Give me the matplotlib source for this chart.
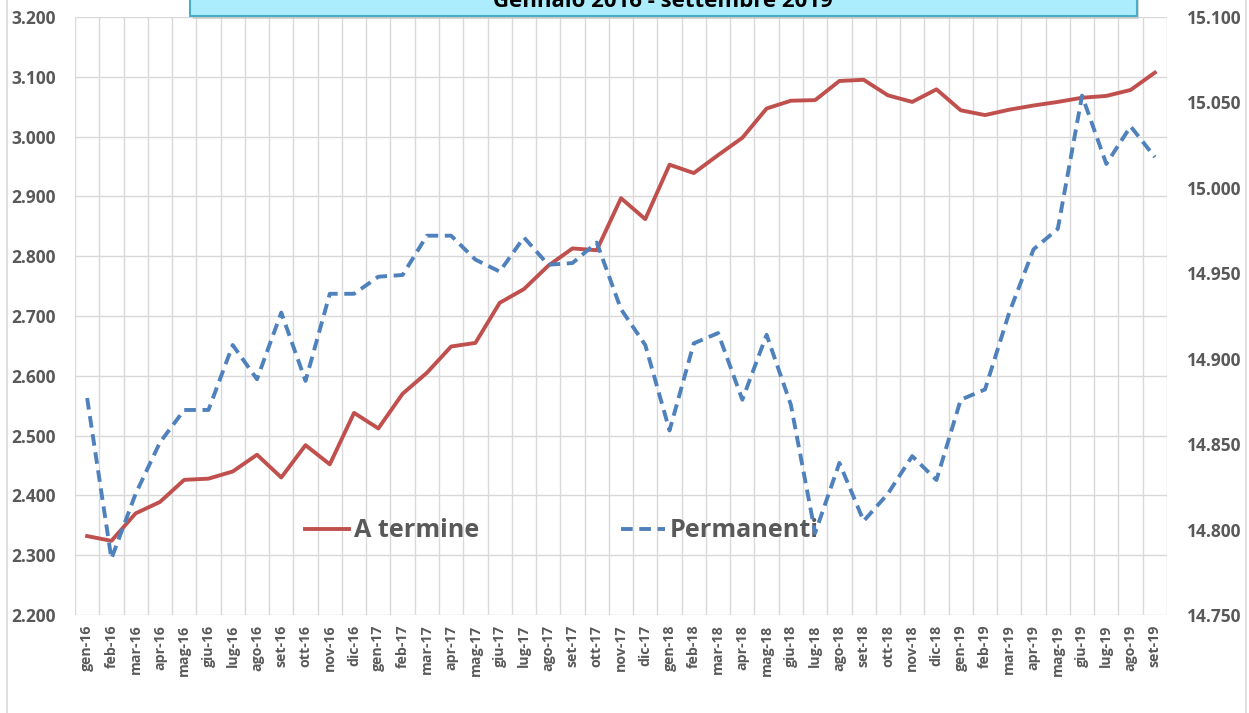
import matplotlib.pyplot as plt
from matplotlib.patches import Rectangle
from matplotlib.lines import Line2D
import numpy as np

# months gen-16 .. set-19
mesi = ["gen", "feb", "mar", "apr", "mag", "giu", "lug", "ago", "set", "ott", "nov", "dic"]
labels = [f"{m}-{a}" for a in ["16", "17", "18", "19"] for m in mesi][:45]

a_termine = [2332, 2324, 2370, 2389, 2426, 2428, 2440, 2468, 2430, 2484, 2452, 2538,
             2512, 2570, 2605, 2649, 2655, 2722, 2745, 2784, 2813, 2810, 2897, 2862,
             2953, 2939, 2969, 2998, 3047, 3060, 3061, 3093, 3095, 3069, 3058, 3079,
             3044, 3036, 3045, 3052, 3058, 3065, 3068, 3078, 3107]

permanenti = [14877, 14783, 14821, 14851, 14870, 14870, 14908, 14888, 14927, 14887, 14938, 14938,
              14948, 14949, 14972, 14972, 14958, 14951, 14971, 14955, 14956, 14968, 14929, 14908,
              14858, 14909, 14915, 14876, 14914, 14873, 14798, 14839, 14805, 14821, 14843, 14829,
              14876, 14882, 14927, 14964, 14976, 15054, 15014, 15036, 15018]

left_ticks = [2200, 2300, 2400, 2500, 2600, 2700, 2800, 2900, 3000, 3100, 3200]
left_labels = ["2.200", "2.300", "2.400", "2.500", "2.600", "2.700", "2.800", "2.900", "3.000", "3.100", "3.200"]
right_ticks = [14750, 14800, 14850, 14900, 14950, 15000, 15050, 15100]
right_labels = ["14.750", "14.800", "14.850", "14.900", "14.950", "15.000", "15.050", "15.100"]

title = "Gennaio 2016 - settembre 2019"

RED = "#C0504D"
BLUE = "#4F81BD"
GRAY = "#595959"
GRID = "#D9D9D9"
FONT = "Open Sans"

W, H = 1249, 713
fig = plt.figure(figsize=(W / 100, H / 100), dpi=100)
ax = fig.add_axes([75 / W, (H - 615) / H, (1167 - 75) / W, (615 - 17) / H])
ax2 = ax.twinx()

x = np.arange(len(labels))

ax.plot(x, a_termine, color=RED, linewidth=2.8, solid_joinstyle="round", label="A termine")
ax2.plot(x, permanenti, color=BLUE, linewidth=2.8, dashes=(3.0, 1.7), label="Permanenti")

ax.set_xlim(-0.5, len(labels) - 0.5)
ax.set_ylim(2200, 3200)
ax2.set_ylim(14750, 15100)

# grid: vertical lines between categories, horizontal at left ticks
ax.set_xticks(x)
ax.set_xticks(np.arange(-0.5, len(labels), 1.0), minor=True)
ax.grid(True, which="minor", axis="x", color=GRID, linewidth=1)
ax.grid(True, which="major", axis="y", color=GRID, linewidth=1)
ax.set_axisbelow(True)

ax.set_xticklabels(labels, rotation=90, fontsize=10.2, fontweight="bold", color=GRAY, family=FONT)
ax.set_yticks(left_ticks)
ax.set_yticklabels(left_labels, fontsize=12.5, fontweight="bold", color=GRAY, family=FONT)
ax2.set_yticks(right_ticks)
ax2.set_yticklabels(right_labels, fontsize=12.5, fontweight="bold", color=GRAY, family=FONT)

ax.tick_params(axis="both", which="both", length=0)
ax.tick_params(axis="y", pad=14)
ax.tick_params(axis="x", pad=7)
ax2.tick_params(axis="y", length=0, pad=14)

for a in (ax, ax2):
    for s in a.spines.values():
        s.set_visible(False)

h1 = Line2D([], [], color=RED, linewidth=2.8)
h2 = Line2D([], [], color=BLUE, linewidth=2.8, dashes=(3.0, 1.7))
leg = ax.legend([h1, h2], ["A termine", "Permanenti"], ncol=2, frameon=False,
                loc="center", bbox_to_anchor=(0.446, 0.1405), handlelength=1.75,
                handletextpad=0.2, columnspacing=5.6,
                prop={"family": FONT, "weight": "bold", "size": 18.2})
for t in leg.get_texts():
    t.set_color(GRAY)

# chart area borders
fig.add_artist(Line2D([7 / W, 7 / W], [0, 1], color=GRID, linewidth=1.2, transform=fig.transFigure))
fig.add_artist(Line2D([1246 / W, 1246 / W], [0, 1], color=GRID, linewidth=1.2, transform=fig.transFigure))

# title box (cut off at the top)
shadow = Rectangle((193 / W, (H - 19) / H), (1136 - 190) / W, 30 / H, transform=fig.transFigure,
                   facecolor="#BBBBBB", edgecolor="none", alpha=0.5)
fig.add_artist(shadow)
box = Rectangle((190.5 / W, (H - 16) / H), (1136.5 - 190.5) / W, 30 / H, transform=fig.transFigure,
                facecolor="#ABEDFC", edgecolor="#4BACC6", linewidth=1.5)
fig.add_artist(box)
fig.text(663 / W, (H - 7) / H, title, ha="center", va="baseline", fontsize=16,
         fontweight="bold", color="black", family=FONT)

fig.savefig("out.png", dpi=100)
